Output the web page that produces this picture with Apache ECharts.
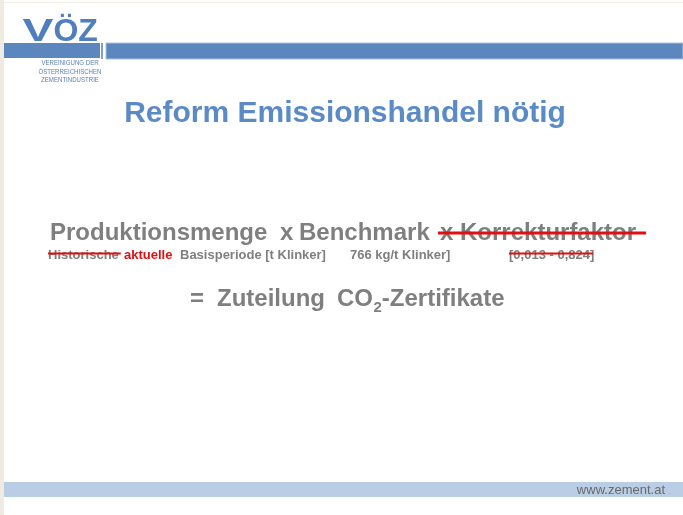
<!DOCTYPE html>
<html><head><meta charset="utf-8">
<script src="https://cdn.jsdelivr.net/npm/echarts@6/dist/echarts.min.js"></script>
<style>html,body{margin:0;padding:0;background:#fff}#c{width:683px;height:515px}</style>
</head><body><div id="c"></div>
<script>
// ---- content ----
const logoLetters = ['V', 'Ö', 'Z'];
const logoLines = ['VEREINIGUNG DER', 'ÖSTERREICHISCHEN', 'ZEMENTINDUSTRIE'];
const titleText = 'Reform Emissionshandel nötig';
const formulaTerms = ['Produktionsmenge', 'x', 'Benchmark', 'x Korrekturfaktor'];
const formulaStruck = [false, false, false, true];
const subLabels = ['Historische', 'aktuelle', 'Basisperiode [t Klinker]', '766 kg/t Klinker]', '[0,013 - 0,824]'];
const subStruck = [true, false, false, false, true];
const subIsRed = [false, true, false, false, false];
const resultParts = ['=', 'Zuteilung', 'CO', '2', '-Zertifikate'];
const footerText = 'www.zement.at';

// ---- styling / layout ----
const FF = '"Liberation Sans", Arial, sans-serif';
const GRAY = '#7f7f7f', RED = '#e01010', BLUE = '#4f7fbf', TITLE_BLUE = '#5b8bc6';
const mctx = document.createElement('canvas').getContext('2d');
function tw(t, font) { mctx.font = font; return mctx.measureText(t).width; }
function txt(x, y, t, font, fill, align, extra) {
  return Object.assign({type: 'text', silent: true, style: {x: x, y: y, text: t, font: font, fill: fill, textAlign: align || 'left', textVerticalAlign: 'middle'}}, extra || {});
}

const g = [];
// borders
g.push({type: 'rect', shape: {x: 0, y: 0, width: 4, height: 515}, style: {fill: '#efebe0'}, silent: true});
g.push({type: 'rect', shape: {x: 4, y: 2, width: 679, height: 1}, style: {fill: '#f1ede3'}, silent: true});
// logo
const logoX = [38, 66, 88];
const logoSX = [1.45, 1, 1];
logoLetters.forEach((t, i) => g.push(txt(0, 32, t, 'bold 32px ' + FF, BLUE, 'center', {x: logoX[i], scaleX: logoSX[i]})));
logoLines.forEach((t, i) => {
  g.push(txt(0, 63 + i * 8.6, t, '7px ' + FF, '#5b7fb5', 'center', {x: 70, scaleX: 0.87}));
});
// header bars (drawn over letters' bottom edge)
g.push({type: 'rect', shape: {x: 4, y: 43, width: 96, height: 15}, style: {fill: '#5b87be'}, silent: true, z: 2});
g.push({type: 'rect', shape: {x: 101, y: 43, width: 2, height: 16}, style: {fill: '#7fa0cc'}, silent: true});
g.push({type: 'rect', shape: {x: 106, y: 43, width: 577, height: 16}, style: {fill: '#5b87be', stroke: '#a9c1e0', lineWidth: 1}, silent: true});
// title
g.push(txt(345, 114, titleText, 'bold 30px ' + FF, TITLE_BLUE, 'center'));

// formula line
const fFont = 'bold 24px ' + FF;
const fX = [50, 280, 299, 440];
formulaTerms.forEach((t, i) => {
  g.push(txt(fX[i], 233, t, fFont, GRAY));
  if (formulaStruck[i]) {
    g.push({type: 'line', silent: true, shape: {x1: fX[i] - 2, y1: 233, x2: fX[i] + tw(t, fFont) + 10, y2: 233}, style: {stroke: RED, lineWidth: 3}});
  }
});
// sub line
const sFont = 'bold 13px ' + FF;
const sX = [48, 124, 180, 350, 509];
subLabels.forEach((t, i) => {
  g.push(txt(sX[i], 255, t, sFont, subIsRed[i] ? RED : GRAY));
  if (subStruck[i]) {
    const wd = i === 4 ? tw(t.slice(0, -1), sFont) + 3 : tw(t, sFont) + 2;
    g.push({type: 'line', silent: true, shape: {x1: sX[i], y1: 253.5, x2: sX[i] + wd, y2: 253.5}, style: {stroke: RED, lineWidth: 2}});
  }
});
// result line
const rFont = 'bold 24px ' + FF, rSub = 'bold 15px ' + FF;
const rY = 299;
g.push(txt(190, rY, resultParts[0], rFont, GRAY));
g.push(txt(217, rY, resultParts[1], rFont, GRAY));
let cx = 337;
g.push(txt(cx, rY, resultParts[2], rFont, GRAY));
cx += tw(resultParts[2], rFont) + 0.5;
g.push(txt(cx, rY + 9, resultParts[3], rSub, GRAY));
cx += tw(resultParts[3], rSub);
g.push(txt(cx, rY, resultParts[4], rFont, GRAY));

// footer
g.push({type: 'rect', shape: {x: 4, y: 482, width: 679, height: 15}, style: {fill: '#b9cde5'}, silent: true});
g.push(txt(665, 490, footerText, '13px ' + FF, '#6a6a6a', 'right'));

const chart = echarts.init(document.getElementById('c'), null, {renderer: 'canvas'});
chart.setOption({backgroundColor: '#ffffff', animation: false, graphic: g});
</script></body></html>
